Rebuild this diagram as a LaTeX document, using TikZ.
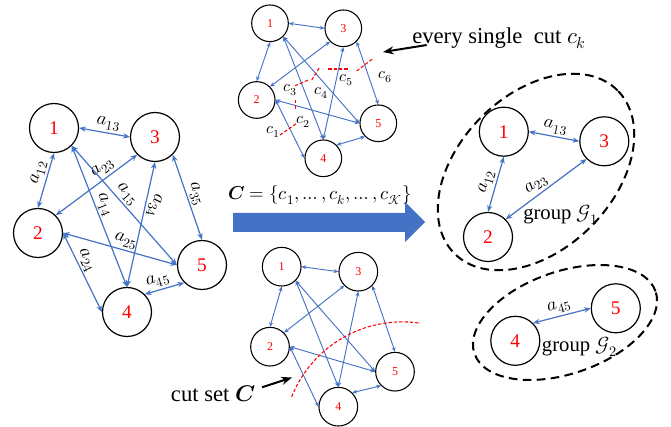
\documentclass[tikz,border=0pt]{standalone}
\usepackage{fontspec}
\usepackage{unicode-math}
\setmainfont{Liberation Serif}
\usetikzlibrary{arrows.meta}

\definecolor{edgeblue}{RGB}{68,114,196}
\definecolor{cutred}{RGB}{255,0,0}

\begin{document}
\begin{tikzpicture}[x=0.75pt, y=-0.75pt, >={Stealth[length=5pt,width=4pt]}]
    \tikzstyle{bignode} = [draw, circle, line width=0.9pt, minimum size=36.75pt, inner sep=0pt, text=red, font=\fontsize{14.5}{16}\selectfont]
    \tikzstyle{smallnode} = [draw, circle, line width=0.8pt, minimum size=27.5pt, inner sep=0pt, text=red, font=\fontsize{9}{11}\selectfont]
    \tikzstyle{edge} = [draw, <->, line width=0.9pt, color=edgeblue]
    \tikzstyle{thinedge} = [draw, <->, line width=0.7pt, color=edgeblue, >={Stealth[length=3.5pt,width=3pt]}]
    \tikzstyle{weight} = [sloped, above, inner sep=1.5pt, text=black, font=\fontsize{14}{16}\selectfont]
    \tikzstyle{cutlabel} = [inner sep=0pt, font=\fontsize{12}{14}\selectfont]
    \tikzstyle{cutline} = [draw, color=cutred, line width=0.8pt, dash pattern=on 2.5pt off 1.5pt]
    \tikzstyle{pointer} = [draw, -{Stealth[length=8pt,width=6pt]}, line width=1.5pt]
    \tikzstyle{group} = [draw, dash pattern=on 6.5pt off 4pt, line width=1.5pt]
    \tikzstyle{caption} = [inner sep=0pt, font=\fontsize{17}{20}\selectfont]

    \useasboundingbox (0,0) rectangle (671,427);

    % Left graph: all pairs of the five agents
    \node [bignode] (l1) at (54,128) {1};
    \node [bignode] (l3) at (155,137) {3};
    \node [bignode] (l2) at (38,233) {2};
    \node [bignode] (l5) at (202,265) {5};
    \node [bignode] (l4) at (127,312) {4};

    \draw [edge] (l1.east) -- node [weight, pos=0.55] {$a_{13}$} (l3.west);
    \draw [edge] (l1.south) -- node [weight, pos=0.4] {$a_{12}$} (l2.north);
    \draw [edge] (l2.north east) -- node [weight, pos=0.65] {$a_{23}$} (l3.south west);
    \draw [edge] (l1.south east) -- node [weight, pos=0.46] {$a_{15}$} (l5.west);
    \draw [edge] (l1.south east) -- node [weight, pos=0.44] {$a_{14}$} (l4.north);
    \draw [edge] (l3.south) -- node [weight, pos=0.33, allow upside down] {$a_{34}$} (l4.north);
    \draw [edge] (l3.south east) -- node [weight, pos=0.5] {$a_{35}$} (l5.north);
    \draw [edge] (l2.east) -- node [weight, pos=0.53] {$a_{25}$} (l5.west);
    \draw [edge] (l2.east) -- node [weight, pos=0.4] {$a_{24}$} (l4.west);
    \draw [edge] (l4.north east) -- node [weight, pos=0.4] {$a_{45}$} (l5.south west);

    % Top graph with the single cuts
    \node [smallnode] (t1) at (270,23.3) {1};
    \node [smallnode] (t3) at (343.3,28.3) {3};
    \node [smallnode] (t2) at (256.7,100) {2};
    \node [smallnode] (t5) at (378.3,123.3) {5};
    \node [smallnode] (t4) at (323.3,158.3) {4};

    \draw [thinedge] (t1.east) -- (t3.west);
    \draw [thinedge] (t1.south) -- (t2.north);
    \draw [thinedge] (t2.north east) -- (t3.south west);
    \draw [thinedge] (t1.south east) -- (t4.north);
    \draw [thinedge] (t1.south east) -- (t5.west);
    \draw [thinedge] (t3.south) -- (t4.north);
    \draw [thinedge] (t3.south east) -- (t5.north);
    \draw [thinedge] (t2.east) -- (t5.west);
    \draw [thinedge] (t2.east) -- (t4.west);
    \draw [thinedge] (t4.north east) -- (t5.south west);

    \draw [cutline] (280,135) -- (296.7,123.3);
    \draw [cutline] (295.7,100) -- (295.7,110);
    \draw [cutline] (295,85.7) -- (308.3,80);
    \draw [cutline] (311.7,80) -- (320,66.7);
    \draw [cutline] (328.3,69) -- (348.3,69);
    \draw [cutline] (356.7,71) -- (373.3,58.3);
    \node [cutlabel] (c1) at (273.3,132.3) {$c_1$};
    \node [cutlabel] (c2) at (303.3,121.7) {$c_2$};
    \node [cutlabel] (c3) at (290,90) {$c_3$};
    \node [cutlabel] (c4) at (321.7,93.3) {$c_4$};
    \node [cutlabel] (c5) at (346.7,80) {$c_5$};
    \node [cutlabel] (c6) at (385,76.7) {$c_6$};

    \node [caption, anchor=base west] (everycut) at (412,43.3) {every single~ cut $c_{\mathscr{k}}$};
    \coordinate (cuttip) at (383,52);
    \draw [pointer] ([xshift=11pt,yshift=-1.3pt]everycut.base west) -- (cuttip);

    % Big arrow to the groups
    \fill [edgeblue] (233,213) -- (405,213) -- (405,202) -- (425,222) -- (405,242) -- (405,232) -- (233,232) -- cycle;
    \node [inner sep=0pt, font=\fontsize{14}{16}\selectfont] (cset) at (320,195) {$\symbfit{C}=\{c_1,\dots,c_{\mathscr{k}},\dots,c_{\mathcal{K}}\}$};

    % Bottom graph with the cut set
    \node [smallnode, minimum size=29pt] (b1) at (281.7,266.7) {1};
    \node [smallnode, minimum size=29pt] (b3) at (358.3,271.7) {3};
    \node [smallnode, minimum size=29pt] (b2) at (270,346.7) {2};
    \node [smallnode, minimum size=29pt] (b5) at (395,371.7) {5};
    \node [smallnode, minimum size=29pt] (b4) at (338.3,406.7) {4};

    \draw [thinedge] (b1.east) -- (b3.west);
    \draw [thinedge] (b1.south) -- (b2.north);
    \draw [thinedge] (b2.north east) -- (b3.south west);
    \draw [thinedge] (b1.south east) -- (b4.north);
    \draw [thinedge] (b1.south east) -- (b5.west);
    \draw [thinedge] (b3.south) -- (b4.north);
    \draw [thinedge] (b3.south east) -- (b5.north);
    \draw [thinedge] (b2.east) -- (b5.west);
    \draw [thinedge] (b2.east) -- (b4.west);
    \draw [thinedge] (b4.north east) -- (b5.south west);

    \draw [cutline] (291.7,396.7) arc [start angle=158.2, end angle=82, radius=89.25pt];

    \node [caption, anchor=base west] (cutset) at (170.7,401.7) {cut set $\symbfit{C}$};
    \coordinate (settip) at (292,377.5);
    \draw [pointer] ([xshift=5pt,yshift=5pt]cutset.east) -- (settip);

    % Group 1
    \node [bignode] (g1) at (503.8,131.7) {1};
    \node [bignode] (g3) at (604.3,141.3) {3};
    \node [bignode] (g2) at (488,237) {2};
    \draw [edge] (g1.east) -- node [weight] {$a_{13}$} (g3.west);
    \draw [edge] (g1.south) -- node [weight] {$a_{12}$} (g2.north);
    \draw [edge] (g2.north east) -- node [weight, pos=0.45] {$a_{23}$} (g3.south west);
    \node [anchor=west, inner sep=0pt, font=\fontsize{15.5}{18}\selectfont] (grp1) at (523,215) {group $\mathcal{G}_1$};
    \draw [group, rotate around={45:(536,172)}] (536,172) ellipse [x radius=86.5pt, y radius=58.1pt];

    % Group 2
    \node [bignode] (g4) at (515.3,340.8) {4};
    \node [bignode] (g5) at (615.8,308.3) {5};
    \draw [edge] (g4.north east) -- node [weight] {$a_{45}$} (g5.west);
    \node [anchor=west, inner sep=0pt, font=\fontsize{15.5}{18}\selectfont] (grp2) at (541.7,346.7) {group $\mathcal{G}_2$};
    \draw [group, rotate around={19:(565,322.5)}] (565,322.5) ellipse [x radius=71.8pt, y radius=38.3pt];
\end{tikzpicture}
\end{document}
